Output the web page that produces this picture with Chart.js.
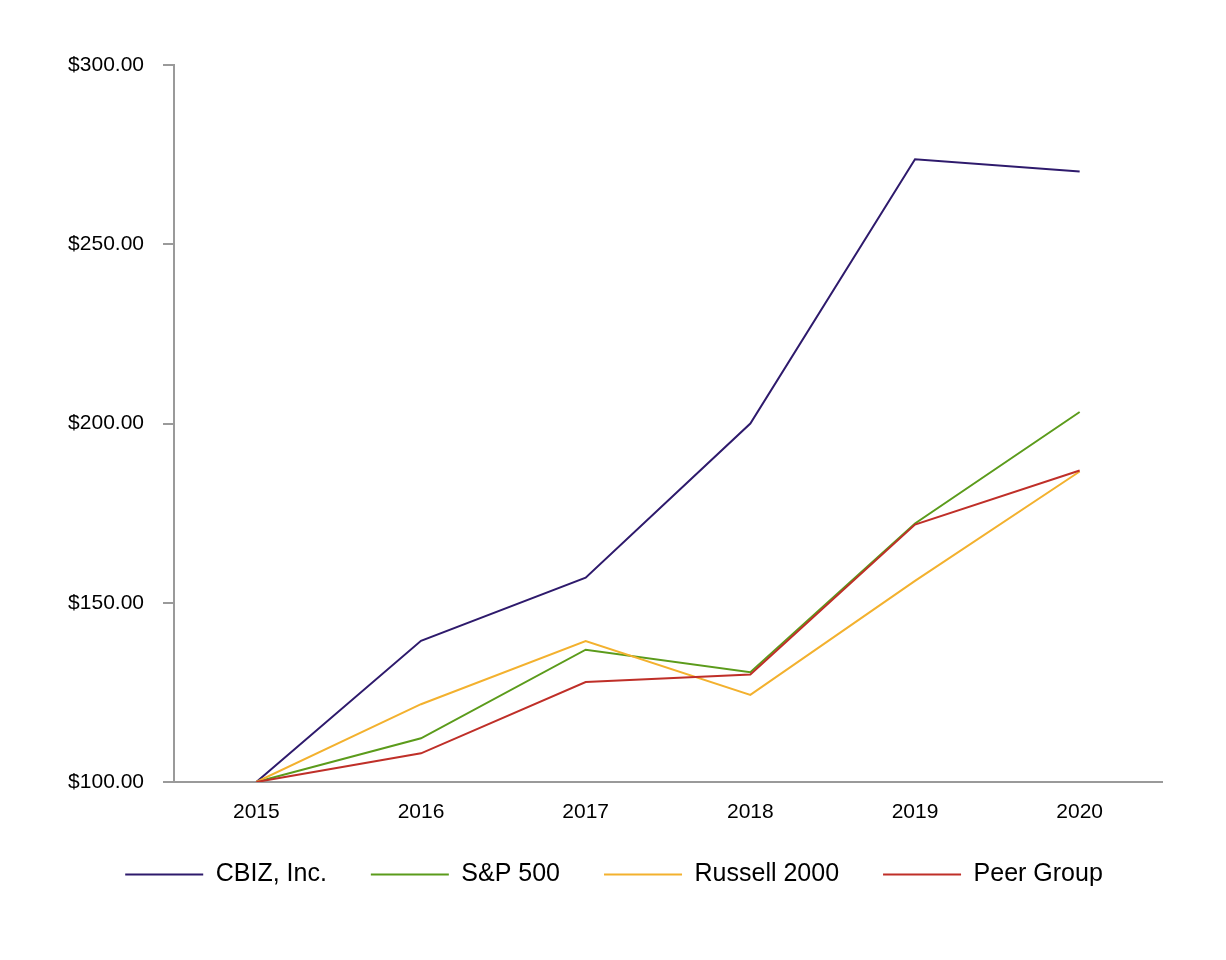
<!DOCTYPE html>
<html>
<head>
<meta charset="utf-8">
<script src="https://cdn.jsdelivr.net/npm/chart.js@4.4.1/dist/chart.umd.min.js"></script>
<style>
  html, body { margin: 0; padding: 0; background: #ffffff; }
  #wrap { width: 1226px; height: 960px; }
</style>
</head>
<body>
<div id="wrap"><canvas id="perfChart" width="1226" height="960"></canvas></div>
<script>
// Años del periodo
var years = ['2015', '2016', '2017', '2018', '2019', '2020'];

// Valores acumulados de cada serie (inversión de $100)
var cbiz = [100.00, 139.40, 157.00, 200.00, 273.70, 270.30];
var sp500 = [100.00, 112.20, 136.90, 130.60, 172.10, 203.20];
var russell2000 = [100.00, 121.70, 139.30, 124.30, 156.10, 186.60];
var peerGroup = [100.00, 108.00, 127.90, 130.00, 171.80, 186.90];

// Marcas del eje Y
var yTicks = [100, 150, 200, 250, 300];

var axisGray = '#9a9a9a';

function serie(label, data, color, order) {
    return {
        label: label,
        data: data,
        borderColor: color,
        backgroundColor: color,
        borderWidth: 2,
        pointRadius: 0,
        tension: 0,
        order: order
    };
}

// Centrar la leyenda bajo el área del gráfico (no bajo todo el lienzo)
var legendShift = {
    id: 'legendShift',
    beforeDraw: function(chart) {
        chart.legend.left = 66;
        chart.legend.right = chart.width - 64;
    }
};

var ctx = document.getElementById('perfChart').getContext('2d');
var perfChart = new Chart(ctx, {
    type: 'line',
    data: {
        labels: years,
        datasets: [
            serie('CBIZ, Inc.', cbiz, '#2e1a6c', 3),
            serie('S&P 500', sp500, '#5b9b1b', 2),
            serie('Russell 2000', russell2000, '#f3b12e', 1),
            serie('Peer Group', peerGroup, '#bf2f28', 0)
        ]
    },
    plugins: [legendShift],
    options: {
        responsive: false,
        animation: false,
        layout: {
            padding: { left: 0, right: 64, top: 65, bottom: 63 }
        },
        plugins: {
            tooltip: { enabled: false },
            legend: {
                position: 'bottom',
                labels: {
                    boxWidth: 78,
                    boxHeight: 0,
                    padding: 44,
                    color: '#000000',
                    font: { family: '"Liberation Sans", Arial, sans-serif', size: 25 },
                    sort: function(a, b) { return a.datasetIndex - b.datasetIndex; }
                }
            }
        },
        scales: {
            x: {
                offset: true,
                grid: { display: false, drawTicks: false },
                border: { display: true, color: axisGray, width: 2 },
                ticks: {
                    color: '#000000',
                    padding: 18,
                    maxRotation: 0,
                    font: { family: '"Liberation Sans", Arial, sans-serif', size: 21 }
                },
                afterFit: function(scale) { scale.height = 36; }
            },
            y: {
                min: 100,
                max: 300,
                afterBuildTicks: function(scale) {
                    scale.ticks = yTicks.map(function(v) { return { value: v }; });
                },
                grid: {
                    drawOnChartArea: false,
                    drawTicks: true,
                    tickLength: 11,
                    color: axisGray,
                    lineWidth: 2
                },
                border: { display: true, color: axisGray, width: 2 },
                ticks: {
                    color: '#000000',
                    padding: 19,
                    font: { family: '"Liberation Sans", Arial, sans-serif', size: 21 },
                    callback: function(value) { return '$' + Number(value).toFixed(2); }
                },
                afterFit: function(scale) { scale.width = 174; }
            }
        }
    }
});
</script>
</body>
</html>
